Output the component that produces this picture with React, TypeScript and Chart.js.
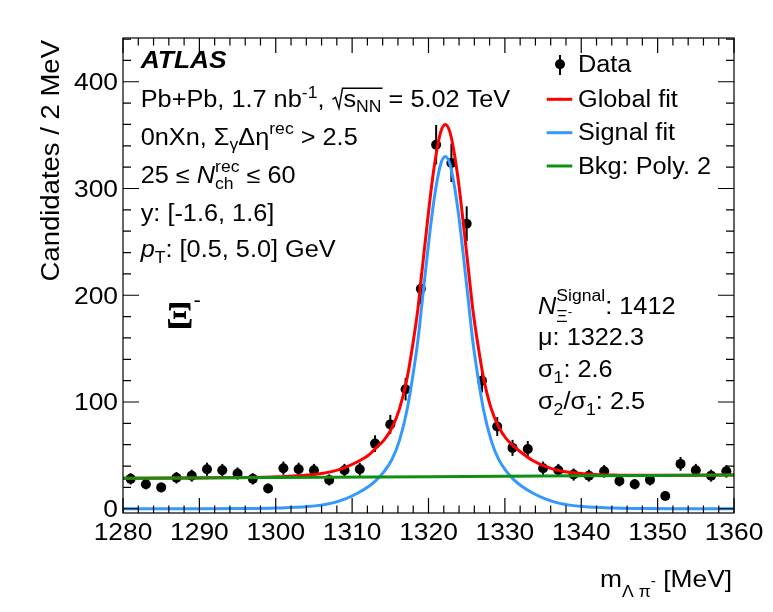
import React, { useEffect, useRef } from 'react';
import { Chart, registerables } from 'chart.js';

Chart.register(...registerables);

// ---------------- data ----------------
const binCenters = [
  1281, 1283, 1285, 1287, 1289, 1291, 1293, 1295, 1297, 1299,
  1301, 1303, 1305, 1307, 1309, 1311, 1313, 1315, 1317, 1319,
  1321, 1323, 1325, 1327, 1329, 1331, 1333, 1335, 1337, 1339,
  1341, 1343, 1345, 1347, 1349, 1351, 1353, 1355, 1357, 1359,
];
const counts = [
  28, 23, 20, 29, 31, 37, 36, 33, 28, 19,
  38, 37, 36, 27, 36, 37, 61, 79, 112, 206,
  341, 324, 267, 120, 77, 57, 56, 38, 36, 32,
  31, 35, 26, 23, 27, 12, 42, 36, 31, 35,
];
const countErrors = [
  5.3, 4.8, 4.5, 5.4, 5.6, 6.1, 6.0, 5.7, 5.3, 4.4,
  6.2, 6.1, 6.0, 5.2, 6.0, 6.1, 7.8, 8.9, 10.6, 14.4,
  18.5, 18.0, 16.3, 11.0, 8.8, 7.5, 7.5, 6.2, 6.0, 5.7,
  5.6, 5.9, 5.1, 4.8, 5.2, 3.5, 6.5, 6.0, 5.6, 5.9,
];
const fitX = [
  1280, 1290, 1296.2, 1300.2, 1304.2, 1307.2, 1309.2, 1310.7, 1312.2, 1313.2,
  1314.2, 1315.2, 1316.2, 1317.2, 1318.0, 1318.6, 1319.2, 1319.8, 1320.4, 1321.0,
  1321.6, 1322.2, 1322.8, 1323.4, 1324.0, 1324.6, 1325.2, 1325.8, 1326.4, 1327.2,
  1328.2, 1329.2, 1330.2, 1331.2, 1332.2, 1333.7, 1335.2, 1337.2, 1340.2, 1344.2,
  1348.2, 1354.2, 1360,
];
const signalFit = [
  0, 0, 0.1, 0.6, 2, 5, 9.5, 14.5, 21, 27,
  35, 46, 64, 93, 127, 157, 196, 235, 272, 302,
  323, 330, 323, 302, 272, 235, 196, 157, 127, 93,
  64, 46, 35, 27, 21, 14.5, 9.5, 5, 2, 0.6,
  0.1, 0, 0,
];
const globalFit = [
  28.5, 28.9, 29.2, 29.9, 31.5, 34.5, 39, 44, 50.5, 57.5,
  64.5, 75.5, 93.5, 122.5, 156.5, 186.5, 226, 265, 302, 332,
  353, 360, 353, 332, 302, 265, 226, 187, 157, 123,
  94, 76.5, 65.5, 58.5, 52.5, 45, 40, 35.5, 32.8, 31.6,
  31.3, 31.4, 31.6,
];
const bkgX = [1280, 1300, 1320, 1340, 1360];
const bkgFit = [28.5, 29.2, 30.0, 30.8, 31.6];

const xTickValues = [1280, 1290, 1300, 1310, 1320, 1330, 1340, 1350, 1360];
const yTickValues = [0, 100, 200, 300, 400];
const legendLabels = ['Data', 'Global fit', 'Signal fit', 'Bkg: Poly. 2'];

// ---------------- style ----------------
const RED = '#ff0000';
const BLUE = '#3399ff';
const GREEN = '#109010';
const FAM = '"Liberation Sans", Arial, Helvetica, sans-serif';
const SERIF = '"Liberation Serif", "Times New Roman", serif';
const SX = 1.1;
const FS = 23; // main text size
const SS = 16; // script size

type Seg = { t: string; size?: number; dy?: number; style?: string; fam?: string; adv?: boolean };

function drawRich(ctx: CanvasRenderingContext2D, segs: Seg[], x: number, y: number): number {
  let cx = x;
  let stackMax = 0;
  for (const s of segs) {
    const size = s.size ?? FS;
    ctx.font = `${s.style ?? ''} ${size}px ${s.fam ?? FAM}`;
    ctx.save();
    ctx.translate(cx, y + (s.dy ?? 0));
    ctx.scale(SX, 1);
    ctx.fillText(s.t, 0, 0);
    ctx.restore();
    const w = ctx.measureText(s.t).width * SX;
    if (s.adv === false) {
      stackMax = Math.max(stackMax, w);
    } else {
      cx += Math.max(w, stackMax);
      stackMax = 0;
    }
  }
  return cx;
}

function textWidth(ctx: CanvasRenderingContext2D, t: string, size: number, style = ''): number {
  ctx.font = `${style} ${size}px ${FAM}`;
  return ctx.measureText(t).width * SX;
}

const decorPlugin = {
  id: 'atlasDecor',
  beforeDatasetsDraw(chart: any) {
    const ctx: CanvasRenderingContext2D = chart.ctx;
    const xs = chart.scales.x;
    const ys = chart.scales.y;
    const a = chart.chartArea;
    ctx.save();
    ctx.beginPath();
    ctx.rect(a.left, a.top, a.right - a.left, a.bottom - a.top);
    ctx.clip();
    ctx.strokeStyle = '#000';
    ctx.lineWidth = 2;
    for (let i = 0; i < binCenters.length; i++) {
      const px = xs.getPixelForValue(binCenters[i]);
      ctx.beginPath();
      ctx.moveTo(px, ys.getPixelForValue(counts[i] - countErrors[i]));
      ctx.lineTo(px, ys.getPixelForValue(counts[i] + countErrors[i]));
      ctx.stroke();
    }
    ctx.restore();
  },
  afterDraw(chart: any) {
    const ctx: CanvasRenderingContext2D = chart.ctx;
    const xs = chart.scales.x;
    const ys = chart.scales.y;
    const a = chart.chartArea;
    ctx.save();
    ctx.fillStyle = '#000';
    ctx.strokeStyle = '#000';

    // frame
    ctx.lineWidth = 1.2;
    ctx.strokeRect(a.left, a.top, a.right - a.left, a.bottom - a.top);

    // ticks
    ctx.beginPath();
    for (let v = xs.min; v <= xs.max + 1e-6; v += 2) {
      const major = xTickValues.includes(Math.round(v));
      const len = major ? 15 : 7.5;
      const px = xs.getPixelForValue(v);
      ctx.moveTo(px, a.bottom);
      ctx.lineTo(px, a.bottom - len);
      ctx.moveTo(px, a.top);
      ctx.lineTo(px, a.top + len);
    }
    for (let v = 0; v <= ys.max + 1e-6; v += 20) {
      const major = yTickValues.includes(Math.round(v));
      const len = major ? 16 : 8;
      const py = ys.getPixelForValue(v);
      ctx.moveTo(a.left, py);
      ctx.lineTo(a.left + len, py);
      ctx.moveTo(a.right, py);
      ctx.lineTo(a.right - len, py);
    }
    ctx.stroke();

    // tick labels
    for (const v of xTickValues) {
      const s = String(v);
      const w = textWidth(ctx, s, 24);
      drawRich(ctx, [{ t: s, size: 24 }], xs.getPixelForValue(v) - w / 2, 540);
    }
    for (const v of yTickValues) {
      const s = String(v);
      const w = textWidth(ctx, s, 24);
      drawRich(ctx, [{ t: s, size: 24 }], 118 - w, ys.getPixelForValue(v) + 8.5);
    }

    // y title
    {
      const t = 'Candidates / 2 MeV';
      const w = textWidth(ctx, t, 25);
      ctx.save();
      ctx.translate(59, 40);
      ctx.rotate(-Math.PI / 2);
      drawRich(ctx, [{ t, size: 25 }], -w, 0);
      ctx.restore();
    }
    // x title
    drawRich(ctx, [
      { t: 'm', size: 24 },
      { t: 'Λ π', size: 16, dy: 10 },
      { t: '-', size: 14, dy: -1 },
      { t: ' [MeV]', size: 24 },
    ], 600, 587);

    // left annotations
    drawRich(ctx, [{ t: 'ATLAS', style: 'italic bold', size: 24 }], 140.7, 68);
    {
      const y = 107.3;
      const x = drawRich(ctx, [
        { t: 'Pb+Pb, 1.7 nb' },
        { t: '-1', size: SS, dy: -9 },
        { t: ', ' },
      ], 140.7, y);
      const rx = x + 1;
      const xEnd = drawRich(ctx, [{ t: 's' }, { t: 'NN', size: SS, dy: 5 }], rx + 11, y);
      ctx.lineWidth = 1.4;
      ctx.beginPath();
      ctx.moveTo(rx, y - 8);
      ctx.lineTo(rx + 3, y - 10);
      ctx.lineTo(rx + 6.5, y + 1);
      ctx.lineTo(rx + 10, y - 19);
      ctx.lineTo(xEnd + 1, y - 19);
      ctx.stroke();
      drawRich(ctx, [{ t: ' = 5.02 TeV' }], xEnd, y);
    }
    drawRich(ctx, [
      { t: '0nXn, Σ' },
      { t: 'γ', size: SS, dy: 5 },
      { t: 'Δη' },
      { t: 'rec', size: SS, dy: -11 },
      { t: ' > 2.5' },
    ], 140.7, 145);
    drawRich(ctx, [
      { t: '25 ≤ ' },
      { t: 'N', style: 'italic' },
      { t: 'rec', size: SS, dy: -11, adv: false },
      { t: 'ch', size: SS, dy: 6 },
      { t: ' ≤ 60' },
    ], 140.7, 182.7);
    drawRich(ctx, [{ t: 'y: [-1.6, 1.6]' }], 140.7, 220.5);
    drawRich(ctx, [
      { t: 'p', style: 'italic' },
      { t: 'T', size: SS, dy: 6 },
      { t: ': [0.5, 5.0] GeV' },
    ], 140.7, 256.7);

    // big Xi
    drawRich(ctx, [
      { t: 'Ξ', size: 37, style: 'bold', fam: SERIF },
      { t: '-', size: 20, dy: -21 },
    ], 166, 328);

    // right annotations
    {
      const y = 314;
      const x0 = drawRich(ctx, [{ t: 'N', style: 'italic' }], 538, y);
      const xSig = drawRich(ctx, [{ t: 'Signal', size: SS, dy: -13 }], x0, y);
      const xXi = drawRich(ctx, [{ t: 'Ξ', size: SS, dy: 8 }], x0, y);
      const xMin = drawRich(ctx, [{ t: '-', size: 12, dy: 2 }], xXi, y);
      drawRich(ctx, [{ t: ': 1412' }], Math.max(xSig, xMin), y);
    }
    drawRich(ctx, [{ t: 'μ: 1322.3' }], 538, 345);
    drawRich(ctx, [{ t: 'σ' }, { t: '1', size: SS, dy: 6 }, { t: ': 2.6' }], 538, 377);
    drawRich(ctx, [
      { t: 'σ' }, { t: '2', size: SS, dy: 6 }, { t: '/σ' }, { t: '1', size: SS, dy: 6 }, { t: ': 2.5' },
    ], 538, 409);

    // legend
    ctx.fillStyle = '#000';
    ctx.beginPath();
    ctx.arc(560, 64.3, 5, 0, Math.PI * 2);
    ctx.fill();
    ctx.lineWidth = 2;
    ctx.beginPath();
    ctx.moveTo(560, 55);
    ctx.lineTo(560, 75);
    ctx.stroke();
    drawRich(ctx, [{ t: legendLabels[0] }], 578, 72.3);
    const lines: [string, number][] = [[RED, 99.3], [BLUE, 132.7], [GREEN, 166]];
    lines.forEach(([c, ly], i) => {
      ctx.strokeStyle = c;
      ctx.lineWidth = 3;
      ctx.beginPath();
      ctx.moveTo(546.7, ly);
      ctx.lineTo(572.3, ly);
      ctx.stroke();
      ctx.fillStyle = '#000';
      drawRich(ctx, [{ t: legendLabels[i + 1] }], 578, ly + 7.5);
    });

    ctx.restore();
  },
};

export default function App() {
  const ref = useRef<HTMLCanvasElement | null>(null);
  useEffect(() => {
    if (!ref.current) return;
    const chart = new Chart(ref.current, {
      type: 'scatter',
      data: {
        datasets: [
          {
            label: legendLabels[0],
            data: binCenters.map((x, i) => ({ x, y: counts[i] })),
            showLine: false,
            pointRadius: 5,
            pointBorderWidth: 0,
            pointBackgroundColor: '#000',
            backgroundColor: '#000',
            borderColor: '#000',
            order: 4,
          },
          {
            label: legendLabels[2],
            data: fitX.map((x, i) => ({ x, y: signalFit[i] })),
            showLine: true,
            pointRadius: 0,
            borderColor: BLUE,
            borderWidth: 3,
            cubicInterpolationMode: 'monotone',
            order: 3,
          },
          {
            label: legendLabels[1],
            data: fitX.map((x, i) => ({ x, y: globalFit[i] })),
            showLine: true,
            pointRadius: 0,
            borderColor: RED,
            borderWidth: 3,
            cubicInterpolationMode: 'monotone',
            order: 2,
          },
          {
            label: legendLabels[3],
            data: bkgX.map((x, i) => ({ x, y: bkgFit[i] })),
            showLine: true,
            pointRadius: 0,
            borderColor: GREEN,
            borderWidth: 3,
            cubicInterpolationMode: 'monotone',
            order: 1,
          },
        ],
      },
      options: {
        animation: false,
        responsive: false,
        events: [],
        layout: { padding: { left: 123, top: 38, right: 39, bottom: 99 } },
        scales: {
          x: { type: 'linear', min: 1280, max: 1360, display: false },
          y: { type: 'linear', min: -4, max: 441, display: false },
        },
        plugins: { legend: { display: false }, tooltip: { enabled: false } },
      },
      plugins: [decorPlugin],
    } as any);
    return () => chart.destroy();
  }, []);
  return (
    <div style={{ position: 'absolute', left: 0, top: 0, width: 773, height: 612, background: '#fff' }}>
      <canvas ref={ref} width={773} height={612} style={{ width: 773, height: 612, display: 'block' }} />
    </div>
  );
}
